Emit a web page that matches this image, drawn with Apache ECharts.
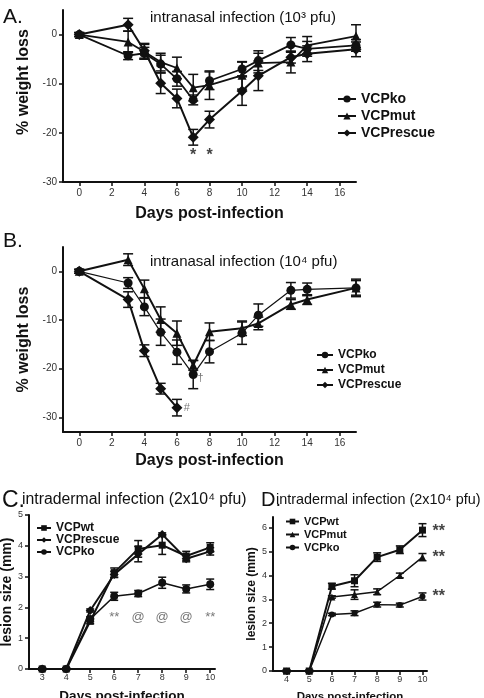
<!DOCTYPE html>
<html>
<head>
<meta charset="utf-8">
<script src="https://cdn.jsdelivr.net/npm/echarts@6/dist/echarts.min.js"></script>
<style>
html, body { margin: 0; padding: 0; background: #fff; }
#chart { width: 484px; height: 698px; }
</style>
</head>
<body>
<div id="chart"></div>
<script>
// panel A - intranasal 10^3 pfu
var daysA = [0, 3, 4, 5, 6, 7, 8, 10, 11, 13, 14, 17];
var koA = [0, -4.3, -3.8, -6.0, -9.0, -13.3, -9.4, -7.0, -5.3, -2.1, -2.9, -2.2];
var koAErr = [0.4, 0.8, 1.2, 1.8, 1.5, 1.0, 1.8, 1.4, 2.0, 1.5, 1.5, 1.2];
var mutA = [0, -1.5, -3.5, -5.6, -6.8, -10.8, -10.3, -8.3, -5.8, -5.6, -2.2, -0.3];
var mutAErr = [0.4, 2.2, 1.5, 1.8, 2.2, 2.7, 2.9, 2.8, 2.0, 2.2, 1.8, 2.3];
var rescueA = [0, 2.0, -3.3, -9.9, -13.0, -20.9, -17.3, -11.5, -8.4, -4.6, -3.9, -3.0];
var rescueAErr = [0.4, 1.3, 1.5, 2.1, 1.9, 1.6, 1.7, 2.9, 3.0, 1.2, 1.6, 1.5];
var starsA = [[7, -24.6, '*'], [8, -24.6, '*']];

// panel B - intranasal 10^4 pfu
var daysB = [0, 3, 4, 5, 6, 7, 8, 10, 11, 13, 14, 17];
var koB = [0, -2.4, -7.3, -12.5, -16.6, -21.2, -16.5, -12.7, -9.0, -3.9, -3.7, -3.4];
var koBErr = [0.4, 1.1, 1.8, 2.7, 2.5, 2.9, 2.3, 2.3, 2.3, 1.6, 1.3, 1.8];
var mutB = [0, 2.4, -3.6, -9.9, -12.7, -19.3, -12.4, -11.7, -10.7, -6.8, -5.8, -3.4];
var mutBErr = [0.4, 1.2, 1.8, 2.6, 2.5, 1.0, 1.8, 1.5, 1.3, 1.0, 1.0, 1.5];
var daysRescueB = [0, 3, 4, 5, 6];
var rescueB = [0, -5.8, -16.3, -24.1, -28.0];
var rescueBErr = [0.4, 1.6, 1.2, 1.1, 1.7];
var marksB = [[7.45, -22.0, '†'], [6.6, -28.0, '#']];

// panel C - intradermal, VCPwt / VCPrescue / VCPko
var daysC = [3, 4, 5, 6, 7, 8, 9, 10];
var wtC = [0, 0, 1.55, 3.13, 3.9, 4.02, 3.67, 3.95];
var wtCErr = [0.03, 0.03, 0.08, 0.15, 0.27, 0.3, 0.15, 0.15];
var rescueC = [0, 0, 1.9, 3.07, 3.73, 4.37, 3.58, 3.82];
var rescueCErr = [0.03, 0.03, 0.05, 0.1, 0.25, 0.05, 0.1, 0.12];
var koC = [0, 0, 1.62, 2.36, 2.45, 2.8, 2.6, 2.75];
var koCErr = [0.03, 0.03, 0.08, 0.13, 0.1, 0.18, 0.13, 0.17];
var marksC = [[6, 1.66, '**'], [7, 1.66, '@'], [8, 1.66, '@'], [9, 1.66, '@'], [10, 1.66, '**']];

// panel D - intradermal, VCPwt / VCPmut / VCPko
var daysD = [4, 5, 6, 7, 8, 9, 10];
var wtD = [0, 0, 3.55, 3.78, 4.77, 5.08, 5.9];
var wtDErr = [0.03, 0.03, 0.12, 0.25, 0.18, 0.16, 0.27];
var mutD = [0, 0, 3.1, 3.2, 3.32, 4.0, 4.77];
var mutDErr = [0.03, 0.03, 0.05, 0.2, 0.12, 0.1, 0.15];
var koD = [0, 0, 2.37, 2.42, 2.78, 2.76, 3.12];
var koDErr = [0.03, 0.03, 0.05, 0.1, 0.1, 0.08, 0.15];
var marksD = [[10.72, 5.85, '**'], [10.72, 4.75, '**'], [10.72, 3.12, '**']];

var ticksXA = [0, 2, 4, 6, 8, 10, 12, 14, 16];
var ticksYA = [0, -10, -20, -30];
var ticksXC = [3, 4, 5, 6, 7, 8, 9, 10];
var ticksYC = [0, 1, 2, 3, 4, 5];
var ticksXD = [4, 5, 6, 7, 8, 9, 10];
var ticksYD = [0, 1, 2, 3, 4, 5, 6];

var FONT = 'Liberation Sans, Arial, sans-serif';
var INK = '#111';

function xAxis(grid, min, max, ticks, gap, size, nameSize, margin) {
  return {
    type: 'value', gridIndex: grid, min: min, max: max,
    name: 'Days post-infection', nameLocation: 'middle', nameGap: gap,
    nameTextStyle: { fontFamily: FONT, fontWeight: 'bold', fontSize: nameSize, color: INK },
    axisLine: { onZero: false, lineStyle: { color: INK, width: 2 } },
    axisTick: { customValues: ticks, length: 4, lineStyle: { color: INK, width: 1.5 } },
    axisLabel: { customValues: ticks, fontFamily: FONT, fontSize: size, color: '#333', margin: margin },
    splitLine: { show: false }
  };
}

function yAxis(grid, name, min, max, ticks, gap, size, nameSize, pad) {
  return {
    type: 'value', gridIndex: grid, min: min, max: max,
    name: name, nameLocation: 'middle', nameGap: gap,
    nameTextStyle: { fontFamily: FONT, fontWeight: 'bold', fontSize: nameSize, color: INK, padding: pad || 0 },
    axisLine: { onZero: false, lineStyle: { color: INK, width: 2 } },
    axisTick: { customValues: ticks, length: 4, lineStyle: { color: INK, width: 1.5 } },
    axisLabel: { customValues: ticks, fontFamily: FONT, fontSize: size, color: '#333', margin: 6 },
    splitLine: { show: false }
  };
}

function line(grid, name, days, vals, symbol, size, width) {
  return {
    type: 'line', name: name, xAxisIndex: grid, yAxisIndex: grid,
    data: days.map(function (d, i) { return [d, vals[i]]; }),
    symbol: symbol, symbolSize: size, clip: false, z: 3,
    lineStyle: { color: INK, width: width },
    itemStyle: { color: INK }
  };
}

function errBars(grid, days, vals, errs, cap) {
  return {
    type: 'custom', xAxisIndex: grid, yAxisIndex: grid, clip: false, z: 2,
    data: days.map(function (d, i) { return [d, vals[i], errs[i]]; }),
    encode: { x: 0, y: 1 },
    renderItem: function (params, api) {
      var x = api.value(0), y = api.value(1), e = api.value(2);
      var top = api.coord([x, y + e]);
      var bot = api.coord([x, y - e]);
      var st = { stroke: INK, lineWidth: 1.5 };
      return {
        type: 'group', children: [
          { type: 'line', shape: { x1: top[0], y1: top[1], x2: bot[0], y2: bot[1] }, style: st },
          { type: 'line', shape: { x1: top[0] - cap, y1: top[1], x2: top[0] + cap, y2: top[1] }, style: st },
          { type: 'line', shape: { x1: bot[0] - cap, y1: bot[1], x2: bot[0] + cap, y2: bot[1] }, style: st }
        ]
      };
    }
  };
}

function marks(grid, pts, size, color, weight) {
  return {
    type: 'scatter', xAxisIndex: grid, yAxisIndex: grid, clip: false, z: 4,
    symbolSize: 0, silent: true,
    data: pts,
    label: {
      show: true, position: 'inside',
      formatter: function (p) { return p.data[2]; },
      fontFamily: FONT, fontSize: size, color: color, fontWeight: weight
    }
  };
}

function legend(names, left, top, size, gap, w, h) {
  return {
    data: names, orient: 'vertical', left: left, top: top, padding: 0,
    itemGap: gap, itemWidth: w, itemHeight: h,
    textStyle: { fontFamily: FONT, fontWeight: 'bold', fontSize: size, color: INK },
    selectedMode: false
  };
}

function title(text, left, top, size) {
  return {
    text: text, left: left, top: top, padding: 0,
    textStyle: { fontFamily: FONT, fontWeight: 'normal', fontSize: size, color: INK }
  };
}

var chart = echarts.init(document.getElementById('chart'));
chart.setOption({
  backgroundColor: '#fff',
  animation: false,
  title: [
    title('A.', 3, 7, 21),
    title('intranasal infection (10³ pfu)', 150, 10, 15),
    title('B.', 3, 231, 21),
    title('intranasal infection (10⁴ pfu)', 150, 254, 15),
    title('C.', 2, 489, 23),
    title('intradermal infection (2x10⁴ pfu)', 22, 492, 15.8),
    title('D.', 261, 490, 20),
    title('intradermal infection (2x10⁴ pfu)', 276, 493, 14.4)
  ],
  legend: [
    legend(['VCPko', 'VCPmut', 'VCPrescue'], 337, 92, 14, 3, 18, 9),
    legend(['VCPko', 'VCPmut', 'VCPrescue'], 316, 349, 12, 3, 16, 8),
    legend(['VCPwt', 'VCPrescue', 'VCPko'], 36, 522, 12, 0, 14, 7),
    legend(['VCPwt', 'VCPmut', 'VCPko'], 285, 516, 11, 2, 13, 7)
  ],
  grid: [
    { left: 63, top: 10, width: 293, height: 172, outerBoundsMode: 'none' },
    { left: 63, top: 247, width: 293, height: 185, outerBoundsMode: 'none' },
    { left: 29, top: 515, width: 186, height: 154, outerBoundsMode: 'none' },
    { left: 273, top: 517, width: 154, height: 154, outerBoundsMode: 'none' }
  ],
  xAxis: [
    xAxis(0, -1, 17, ticksXA, 24, 10, 16, 6),
    xAxis(1, -1, 17, ticksXA, 21, 10, 16, 6),
    xAxis(2, 2.45, 10.2, ticksXC, 20, 9, 13.5, 4),
    xAxis(3, 3.4, 10.2, ticksXD, 20, 9, 11.5, 4)
  ],
  yAxis: [
    yAxis(0, '% weight loss', -30, 5, ticksYA, 28, 10, 16, [0, 0, 0, 28]),
    yAxis(1, '% weight loss', -33, 5, ticksYA, 28, 10, 16),
    yAxis(2, 'lesion size (mm)', 0, 5, ticksYC, 13, 9, 14),
    yAxis(3, 'lesion size (mm)', 0, 6.45, ticksYD, 13, 9, 12)
  ],
  series: [
    errBars(0, daysA, koA, koAErr, 5),
    errBars(0, daysA, mutA, mutAErr, 5),
    errBars(0, daysA, rescueA, rescueAErr, 5),
    line(0, 'VCPko', daysA, koA, 'circle', 9, 1.8),
    line(0, 'VCPmut', daysA, mutA, 'triangle', 9, 1.8),
    line(0, 'VCPrescue', daysA, rescueA, 'diamond', 11, 2),
    marks(0, starsA, 16, INK, 'bold'),

    errBars(1, daysB, koB, koBErr, 5),
    errBars(1, daysB, mutB, mutBErr, 5),
    errBars(1, daysRescueB, rescueB, rescueBErr, 5),
    line(1, 'VCPko', daysB, koB, 'circle', 9, 1.2),
    line(1, 'VCPmut', daysB, mutB, 'triangle', 9, 2),
    line(1, 'VCPrescue', daysRescueB, rescueB, 'diamond', 11, 2),
    marks(1, marksB, 11, '#555', 'normal'),

    errBars(2, daysC, wtC, wtCErr, 4),
    errBars(2, daysC, rescueC, rescueCErr, 4),
    errBars(2, daysC, koC, koCErr, 4),
    line(2, 'VCPwt', daysC, wtC, 'rect', 7, 2),
    line(2, 'VCPrescue', daysC, rescueC, 'diamond', 9, 2),
    line(2, 'VCPko', daysC, koC, 'circle', 8, 1.5),
    marks(2, marksC, 13, '#555', 'normal'),

    errBars(3, daysD, wtD, wtDErr, 4),
    errBars(3, daysD, mutD, mutDErr, 4),
    errBars(3, daysD, koD, koDErr, 4),
    line(3, 'VCPwt', daysD, wtD, 'rect', 7, 2),
    line(3, 'VCPmut', daysD, mutD, 'triangle', 7, 1.5),
    line(3, 'VCPko', daysD, koD, 'circle', 6, 1.5),
    marks(3, marksD, 16, INK, 'bold')
  ]
});
</script>
</body>
</html>
